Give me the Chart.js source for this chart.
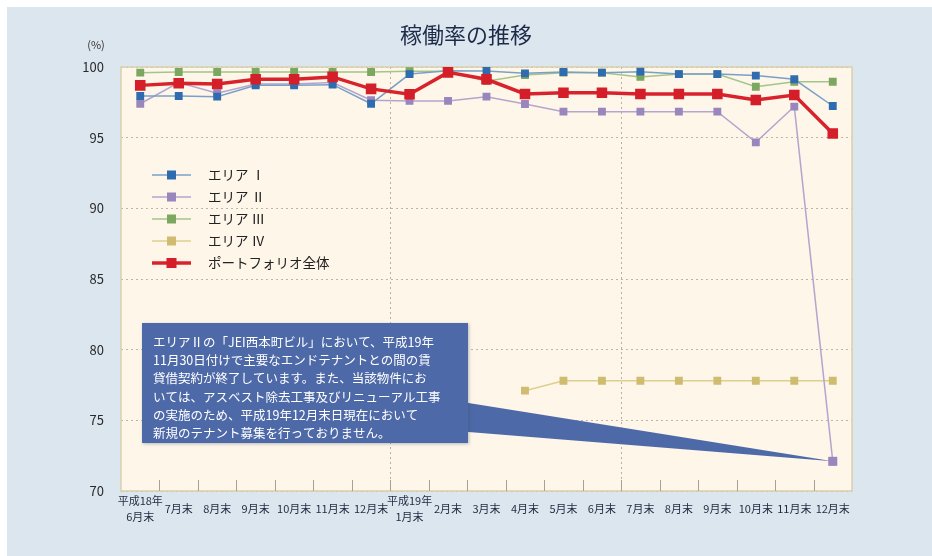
<!DOCTYPE html>
<html lang="ja">
<head>
<meta charset="utf-8">
<title>稼働率の推移</title>
<script src="https://cdn.jsdelivr.net/npm/chart.js@4.4.0/dist/chart.umd.min.js"></script>
<style>
  html, body { margin: 0; padding: 0; background: #fff; }
  #wrap { width: 932px; height: 556px; }
</style>
</head>
<body>
<div id="wrap"><canvas id="rateChart" width="932" height="556"></canvas></div>
<script>
const months = [
    ['平成18年', '6月末'], '7月末', '8月末', '9月末', '10月末', '11月末', '12月末',
    ['平成19年', '1月末'], '2月末', '3月末', '4月末', '5月末', '6月末',
    '7月末', '8月末', '9月末', '10月末', '11月末', '12月末'
]

const area1 = [97.95, 97.95, 97.9, 98.7, 98.7, 98.75, 97.4, 99.5, 99.74, 99.72, 99.55, 99.65, 99.6, 99.67, 99.5, 99.5, 99.39, 99.13, 97.24]
const area2 = [97.4, 98.9, 98.15, 98.8, 98.8, 98.9, 97.65, 97.6, 97.6, 97.9, 97.38, 96.84, 96.84, 96.84, 96.84, 96.84, 94.67, 97.2, 72.1]
const area3 = [99.6, 99.65, 99.65, 99.65, 99.65, 99.65, 99.65, 99.7, 99.7, 99.0, 99.43, 99.6, 99.6, 99.3, 99.5, 99.5, 98.6, 98.96, 98.96]
const area4 = [null, null, null, null, null, null, null, null, null, null, 77.1, 77.8, 77.8, 77.8, 77.8, 77.8, 77.8, 77.8, 77.8]
const portfolio = [98.7, 98.85, 98.8, 99.13, 99.13, 99.3, 98.45, 98.07, 99.62, 99.13, 98.09, 98.18, 98.18, 98.09, 98.09, 98.09, 97.66, 98.02, 95.3]

const seriesNames = ['エリア Ⅰ', 'エリア Ⅱ', 'エリア Ⅲ', 'エリア Ⅳ', 'ポートフォリオ全体']
const yTicks = [70, 75, 80, 85, 90, 95, 100]

const noteLines = [
    'エリアⅡの「JEI西本町ビル」において、平成19年',
    '11月30日付けで主要なエンドテナントとの間の賃',
    '貸借契約が終了しています。また、当該物件にお',
    'いては、アスベスト除去工事及びリニューアル工事',
    'の実施のため、平成19年12月末日現在において',
    '新規のテナント募集を行っておりません。'
]

const FONT = '"Noto Sans CJK JP", "Noto Sans", sans-serif'

function lineSet(label, data, line, mark, width, size, order) {
    return {
        label: label,
        data: data,
        borderColor: line,
        backgroundColor: mark,
        pointBackgroundColor: mark,
        pointBorderColor: mark,
        borderWidth: width,
        pointStyle: 'rect',
        pointRadius: size,
        pointHoverRadius: size,
        spanGaps: false,
        tension: 0,
        order: order
    }
}

// panel, plot frame, title, legend and the note box
const decorations = {
    id: 'decorations',
    beforeDraw(chart) {
        const ctx = chart.ctx
        const a = chart.chartArea
        ctx.save()
        ctx.fillStyle = '#ffffff'
        ctx.fillRect(0, 0, chart.width, chart.height)
        ctx.fillStyle = '#dce6ee'
        ctx.fillRect(7, 7, chart.width - 7, chart.height - 7)
        ctx.fillStyle = '#fdf6e9'
        ctx.fillRect(a.left, a.top, a.right - a.left, a.bottom - a.top)

        ctx.fillStyle = '#1d2a48'
        ctx.font = '22px ' + FONT
        ctx.textAlign = 'center'
        ctx.textBaseline = 'middle'
        ctx.fillText('稼働率の推移', 466, 35)
        ctx.fillStyle = '#333'
        ctx.font = '11px ' + FONT
        ctx.fillText('(%)', 96, 45)
        ctx.restore()
    },
    beforeDatasetsDraw(chart) {
        const ctx = chart.ctx
        const a = chart.chartArea
        const x = chart.scales.x
        ctx.save()
        ctx.strokeStyle = '#d9cfae'
        ctx.lineWidth = 1.5
        ctx.strokeRect(a.left, a.top, a.right - a.left, a.bottom - a.top)
        // small ticks between the months, standing on the bottom edge
        ctx.strokeStyle = '#a8a090'
        ctx.lineWidth = 1
        const half = (x.getPixelForValue(1) - x.getPixelForValue(0)) / 2
        for (let i = 1; i < months.length; i++) {
            const px = Math.round(x.getPixelForValue(i) - half) + 0.5
            ctx.beginPath()
            ctx.moveTo(px, a.bottom)
            ctx.lineTo(px, a.bottom - 11)
            ctx.stroke()
        }
        ctx.restore()
    },
    afterDraw(chart) {
        const ctx = chart.ctx
        ctx.save()

        // legend
        let y = 175
        chart.data.datasets.forEach((ds) => {
            ctx.strokeStyle = ds.borderColor
            ctx.lineWidth = ds.borderWidth
            ctx.beginPath()
            ctx.moveTo(152, y)
            ctx.lineTo(191, y)
            ctx.stroke()
            const s = ds.pointRadius * 2
            ctx.fillStyle = ds.pointBackgroundColor
            ctx.fillRect(171.5 - s / 2, y - s / 2, s, s)
            ctx.fillStyle = '#222'
            ctx.font = '13.5px ' + FONT
            ctx.textAlign = 'left'
            ctx.textBaseline = 'middle'
            ctx.fillText(ds.label, 208, y)
            y += 22
        })

        // note box pointing at the last エリアⅡ point
        const tip = chart.getDatasetMeta(1).data[area2.length - 1]
        const box = { left: 142, top: 323, right: 468, bottom: 443 }
        ctx.fillStyle = '#4e69a7'
        ctx.beginPath()
        ctx.moveTo(box.right - 12, 401)
        ctx.lineTo(tip.x, tip.y)
        ctx.lineTo(box.right - 12, 431)
        ctx.closePath()
        ctx.fill()
        ctx.shadowColor = 'rgba(60, 70, 100, 0.35)'
        ctx.shadowBlur = 3
        ctx.shadowOffsetX = 1
        ctx.shadowOffsetY = 1
        ctx.fillRect(box.left, box.top, box.right - box.left, box.bottom - box.top)
        ctx.shadowColor = 'transparent'

        ctx.fillStyle = '#ffffff'
        ctx.font = '12.5px ' + FONT
        ctx.textAlign = 'left'
        ctx.textBaseline = 'middle'
        noteLines.forEach((t, i) => {
            ctx.fillText(t, 153, 342 + i * 18.3)
        })

        // keep the point on top of the wedge
        const s = 4.5
        ctx.fillStyle = '#9a86bd'
        ctx.fillRect(tip.x - s, tip.y - s, s * 2, s * 2)
        ctx.restore()
    }
}

new Chart(document.getElementById('rateChart'), {
    type: 'line',
    data: {
        labels: months,
        datasets: [
            lineSet(seriesNames[0], area1, '#7aa0c8', '#2f6caf', 1.5, 4.5, 2),
            lineSet(seriesNames[1], area2, '#b3a5cf', '#9a86bd', 1.5, 4.5, 4),
            lineSet(seriesNames[2], area3, '#a3c58a', '#7ca761', 1.5, 4.5, 3),
            lineSet(seriesNames[3], area4, '#ddcf8e', '#cfbc70', 1.5, 4.5, 5),
            lineSet(seriesNames[4], portfolio, '#d8232d', '#d41e29', 3.5, 5, 1)
        ]
    },
    options: {
        responsive: false,
        animation: false,
        layout: {
            padding: { left: 0, top: 67, right: 80, bottom: 0 }
        },
        plugins: {
            legend: { display: false },
            tooltip: { enabled: false },
            title: { display: false }
        },
        scales: {
            x: {
                type: 'category',
                offset: true,
                afterFit: (scale) => { scale.height = 65 },
                grid: {
                    offset: true,
                    drawTicks: false,
                    color: (c) => (c.index === 7 || c.index === 13) ? '#b8b0a0' : 'rgba(0,0,0,0)',
                    lineWidth: 1
                },
                border: { display: false, dash: [2, 3] },
                ticks: {
                    autoSkip: false,
                    maxRotation: 0,
                    minRotation: 0,
                    crossAlign: 'center',
                    padding: 10,
                    color: '#1e2a40',
                    font: { family: FONT, size: 11, lineHeight: 1.45 }
                }
            },
            y: {
                min: 70,
                max: 100,
                afterFit: (scale) => { scale.width = 121 },
                afterBuildTicks: (scale) => {
                    scale.ticks = yTicks.map((v) => ({ value: v }))
                },
                grid: {
                    drawTicks: false,
                    color: '#bdb5a6',
                    lineWidth: 1
                },
                border: { display: false, dash: [2, 3] },
                ticks: {
                    padding: 17,
                    color: '#2a2a2a',
                    font: { family: FONT, size: 13 }
                }
            }
        }
    },
    plugins: [decorations]
});
</script>
</body>
</html>
